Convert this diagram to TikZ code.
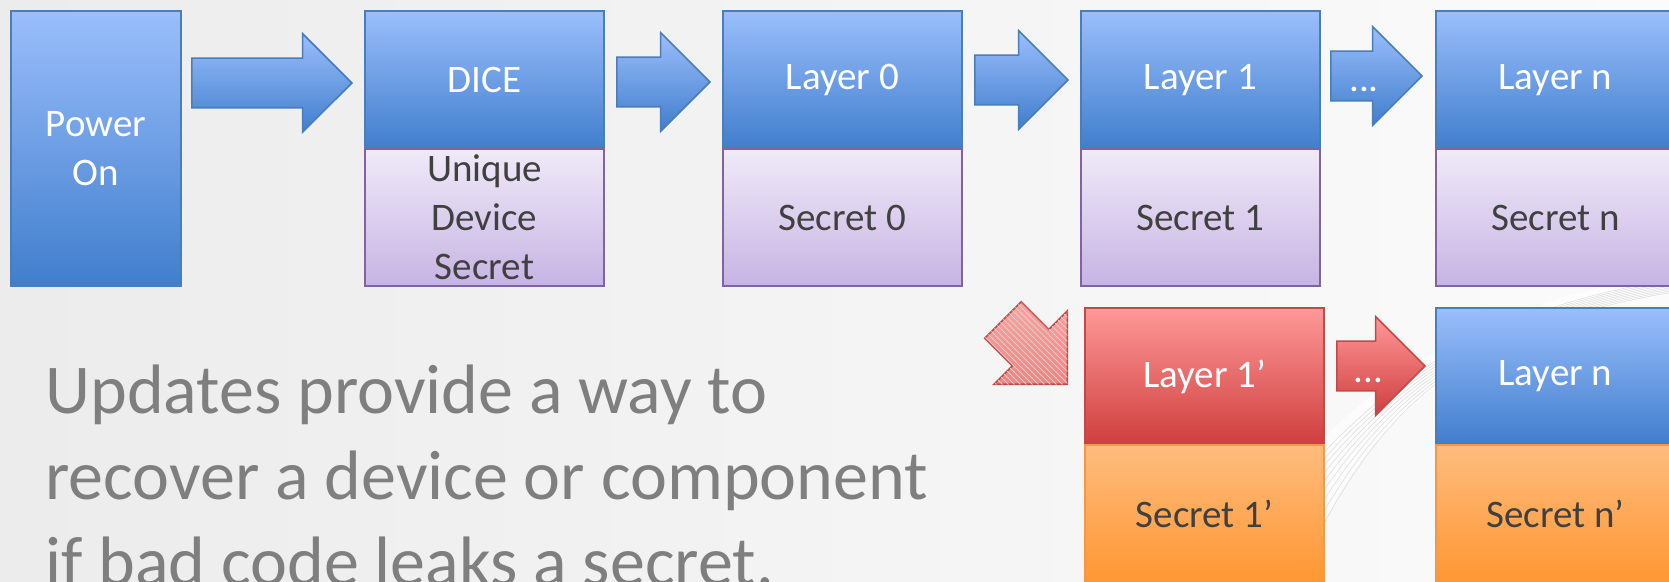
\documentclass[tikz,border=0pt]{standalone}
\usepackage{fontspec}
\setmainfont{Carlito}
\usetikzlibrary{positioning,shapes.arrows,patterns}
\definecolor{blueup}{RGB}{155,190,252}
\definecolor{bluedown}{RGB}{64,126,204}
\definecolor{blueline}{RGB}{74,126,187}
\definecolor{purpleup}{RGB}{240,234,248}
\definecolor{purpledown}{RGB}{198,180,227}
\definecolor{purpleline}{RGB}{128,100,162}
\definecolor{redup}{RGB}{255,152,152}
\definecolor{reddown}{RGB}{208,62,62}
\definecolor{redline}{RGB}{190,75,72}
\definecolor{orangeup}{RGB}{255,188,126}
\definecolor{orangedown}{RGB}{255,150,50}
\definecolor{orangeline}{RGB}{247,150,70}
\definecolor{note}{RGB}{127,127,127}
\definecolor{ink}{RGB}{64,64,64}

\begin{document}
\begin{tikzpicture}[x=0.5pt,y=-0.5pt]
	\tikzstyle{box}=[rectangle,thick,inner sep=0pt,outer sep=0pt,minimum width=119.5pt,align=center,
		font=\fontsize{19.5}{24.5}\selectfont]
	\tikzstyle{layer}=[box,draw=blueline,top color=blueup,bottom color=bluedown,text=white,minimum height=69pt]
	\tikzstyle{secret}=[box,draw=purpleline,top color=purpleup,bottom color=purpledown,text=ink,minimum height=68.5pt]
	\tikzstyle{newlayer}=[box,draw=redline,top color=redup,bottom color=reddown,text=white,minimum height=68.5pt]
	\tikzstyle{newsecret}=[box,draw=orangeline,top color=orangeup,bottom color=orangedown,text=ink,minimum height=69pt]
	\tikzstyle{flow}=[single arrow,thick,draw=blueline,top color=blueup,bottom color=bluedown,
		single arrow head extend=12.25pt,inner ysep=12pt,inner xsep=0pt,
		text height=0pt,text depth=0pt,minimum height=46.5pt,text=white,
		font=\fontsize{19.5}{24.5}\selectfont]
	\tikzstyle{reflow}=[flow,draw=redline,top color=redup,bottom color=reddown]
	
	\def \toprow{11}
	\def \lowrow{308}
	
	% background
	\useasboundingbox (0,0) rectangle (1669,582);
	\shade[left color=gray!15,right color=gray!3] (0,0) rectangle (1669,582);
	\fill[white,opacity=.7] (1215,582) .. controls (1300,440) and (1420,310) .. (1669,275) -- (1669,292) .. controls (1450,330) and (1340,450) .. (1300,582) -- cycle;
	\foreach \s in {0,8,...,64}
		\draw[gray!40,line width=.3pt,opacity=.6] (1230+\s,582) .. controls (1310+\s*.8,445) and (1425,318+\s*.25) .. (1669,280+\s*.2);
	
	\node[layer,minimum width=85pt,minimum height=137.5pt,anchor=north west] (power) at (11,\toprow) {Power\\On};
	
	\node[layer,anchor=north west] (dice) at (365,\toprow) {DICE};
	\node[secret,below=0pt of dice] (uds) {Unique\\Device\\Secret};
	
	\node[layer,anchor=north west] (layer0) at (723,\toprow) {Layer 0};
	\node[secret,below=0pt of layer0] (secret0) {Secret 0};
	
	\node[layer,anchor=north west] (layer1) at (1081,\toprow) {Layer 1};
	\node[secret,below=0pt of layer1] (secret1) {Secret 1};
	
	\node[layer,anchor=north west] (layern) at (1436,\toprow) {Layer n};
	\node[secret,below=0pt of layern] (secretn) {Secret n};
	
	% updated chain
	\node[newlayer,anchor=north west] (layer1u) at (1085,\lowrow) {Layer 1’};
	\node[newsecret,below=0pt of layer1u] (secret1u) {Secret 1’};
	
	\node[layer,minimum height=68.5pt,anchor=north west] (layernu) at (1436,\lowrow) {Layer n};
	\node[newsecret,below=0pt of layernu] (secretnu) {Secret n’};
	
	% block arrows
	\node[flow,minimum height=80pt,anchor=tip] (boot) at (353,83) {};
	\node[flow,anchor=tip] (hop0) at (711,82) {};
	\node[flow,anchor=tip] (hop1) at (1069,80) {};
	\node[flow,minimum height=45.5pt,anchor=tip] (hopn) at (1423,76) {\raisebox{-8pt}{...}};
	\node[reflow,minimum height=44pt,anchor=tip] (hopnu) at (1426,366) {\raisebox{-8pt}{...}};
	\node[reflow,rotate=-45,minimum height=45.5pt,inner ysep=12.5pt,single arrow head extend=13pt,
		top color=redup!90!white,bottom color=redup!75!reddown,
		postaction={pattern=north west lines,pattern color=redline!30}] (update) at (1026,343) {};
	
	\node[anchor=base west,align=left,inner sep=0pt,text=note,font=\fontsize{35}{43}\selectfont] (msg)
		at (45,585) {Updates provide a way to\\recover a device or component\\if bad code leaks a secret.};
\end{tikzpicture}
\end{document}
